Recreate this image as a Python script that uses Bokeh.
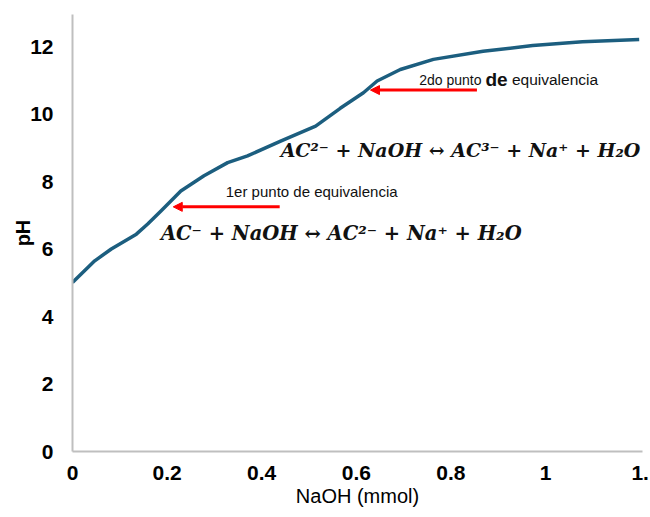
from bokeh.plotting import figure
from bokeh.models import Range1d, FixedTicker, NumeralTickFormatter, Label, Arrow, NormalHead
from bokeh.embed import file_html
from bokeh.resources import INLINE

# ---- data ----
naoh_mmol = [0.0, 0.047, 0.082, 0.135, 0.159, 0.187, 0.229, 0.278, 0.328, 0.37,
             0.44, 0.514, 0.566, 0.615, 0.644, 0.693, 0.763, 0.868, 0.973, 1.078, 1.198]
ph_values = [5.01, 5.65, 6.0, 6.44, 6.74, 7.13, 7.72, 8.17, 8.56, 8.76,
             9.2, 9.64, 10.17, 10.63, 10.98, 11.32, 11.62, 11.86, 12.03, 12.14, 12.21]

x_ticks = [0, 0.2, 0.4, 0.6, 0.8, 1.0, 1.2]
y_ticks = [0, 2, 4, 6, 8, 10, 12]
x_tick_overrides = {1.2: "1."}   # the reference shows this label cut off at the edge

eq_x = [0.213, 0.630]          # equivalence points (arrow tips)
eq_ph = [7.25, 10.71]
arrow_len = 0.225

eq_titles = ["1er punto de equivalencia", "2do punto de equivalencia"]
reactions = ["AC\u207b + NaOH \u2194 AC\u00b2\u207b + Na\u207a + H\u2082O",
             "AC\u00b2\u207b + NaOH \u2194 AC\u00b3\u207b + Na\u207a + H\u2082O"]

LINE_COLOR = "#1c5e7f"
AXIS_COLOR = "#bfbfbf"
TXT = "#111111"

p = figure(width=650, height=517, output_backend="svg", toolbar_location=None,
           x_range=Range1d(0, 1.205), y_range=Range1d(0, 12.95),
           min_border_left=72, min_border_right=8, min_border_top=14, min_border_bottom=66)
p.outline_line_color = None
p.background_fill_color = "white"
p.border_fill_color = "white"
p.grid.visible = False

p.line(naoh_mmol, ph_values, line_color=LINE_COLOR, line_width=3.5, line_join="round")

for ax in (p.xaxis[0], p.yaxis[0]):
    ax.axis_line_color = AXIS_COLOR
    ax.axis_line_width = 2
    ax.major_tick_line_color = None
    ax.minor_tick_line_color = None
    ax.major_tick_out = 0
    ax.major_tick_in = 0
    ax.major_label_text_font = "Liberation Sans"
    ax.major_label_text_font_style = "bold"
    ax.major_label_text_font_size = "21px"
    ax.major_label_text_color = "black"
    ax.axis_label_text_font = "Liberation Sans"
    ax.axis_label_text_color = "black"
    ax.axis_label_text_font_size = "20px"

p.xaxis.ticker = FixedTicker(ticks=x_ticks)
p.yaxis.ticker = FixedTicker(ticks=y_ticks)
p.xaxis.formatter = NumeralTickFormatter(format="0.[0]")
p.xaxis.major_label_overrides = x_tick_overrides
p.xaxis.major_label_standoff = 14
p.yaxis.major_label_standoff = 19
p.xaxis.axis_label = "NaOH (mmol)"
p.xaxis.axis_label_text_font_style = "normal"
p.xaxis.axis_label_standoff = 2
p.yaxis.axis_label = "pH"
p.yaxis.axis_label_text_font_style = "bold"
p.yaxis.axis_label_standoff = -7

# arrows pointing to equivalence points
for xe, ye in zip(eq_x, eq_ph):
    p.add_layout(Arrow(x_start=xe + arrow_len, y_start=ye, x_end=xe, y_end=ye,
                       line_color="#ff0000", line_width=3,
                       end=NormalHead(size=9, fill_color="#ff0000", line_color="#ff0000")))

# annotation texts
p.add_layout(Label(x=eq_x[0] + 0.111, y=eq_ph[0] + 0.44, text=eq_titles[0],
                   text_font="Liberation Sans", text_font_size="15px", text_color=TXT,
                   text_baseline="alphabetic"))
parts = eq_titles[1].split(" ")
p.add_layout(Label(x=eq_x[1] + 0.103, y=eq_ph[1] + 0.3, text=parts[0] + " " + parts[1],
                   text_font="Liberation Sans", text_font_size="14px", text_color=TXT,
                   text_baseline="alphabetic"))
p.add_layout(Label(x=eq_x[1] + 0.243, y=eq_ph[1] + 0.3, text=parts[2],
                   text_font="Liberation Sans", text_font_style="bold", text_font_size="19px",
                   text_color=TXT, text_baseline="alphabetic"))
p.add_layout(Label(x=eq_x[1] + 0.299, y=eq_ph[1] + 0.3, text=parts[3],
                   text_font="Liberation Sans", text_font_size="15.5px", text_color=TXT,
                   text_baseline="alphabetic"))

p.add_layout(Label(x=eq_x[0] - 0.026, y=eq_ph[0] - 0.80, text=reactions[0],
                   text_font="DejaVu Serif", text_font_style="bold italic", text_font_size="19.5px",
                   text_color=TXT, text_baseline="alphabetic"))
p.add_layout(Label(x=eq_x[1] - 0.19, y=eq_ph[1] - 1.77, text=reactions[1],
                   text_font="DejaVu Serif", text_font_style="bold italic", text_font_size="19px",
                   text_color=TXT, text_baseline="alphabetic"))

open("out.html", "w").write(file_html(p, INLINE))
